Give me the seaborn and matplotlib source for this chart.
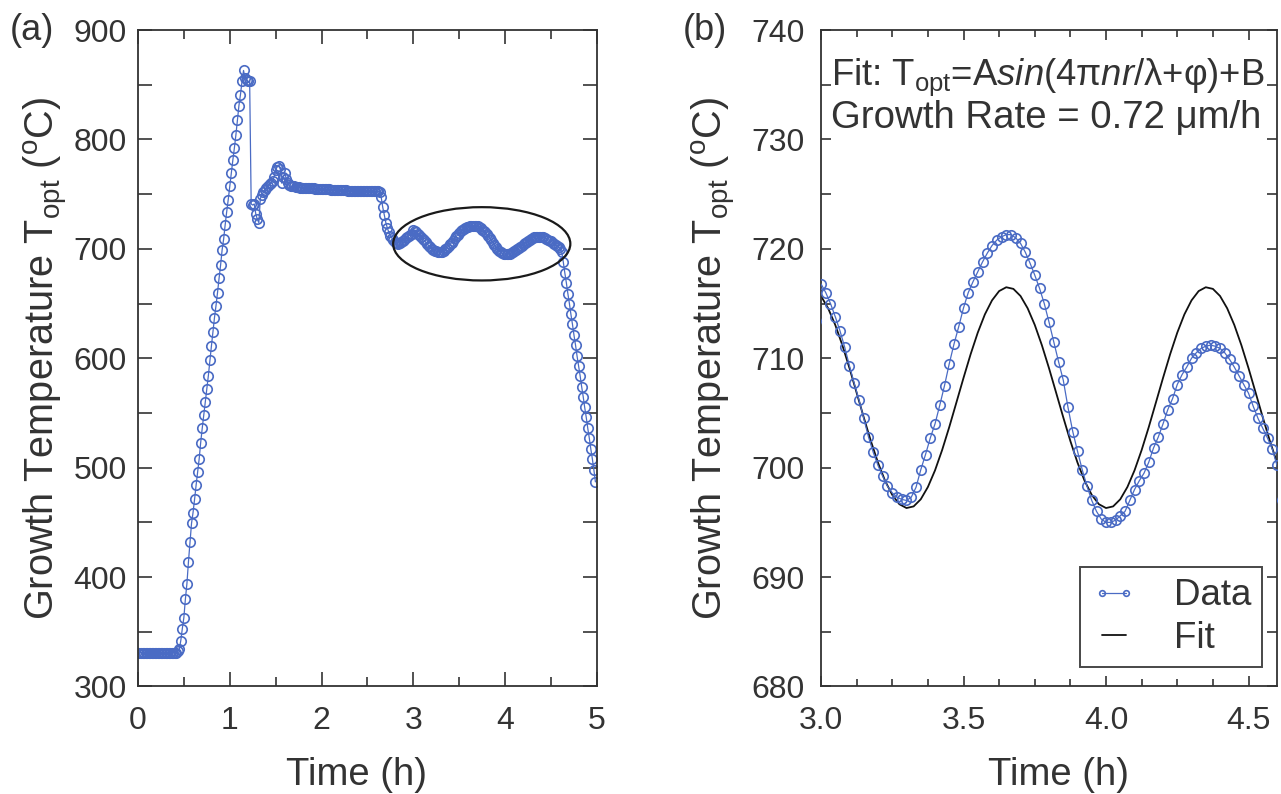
import numpy as np
import matplotlib
matplotlib.use("Agg")
import matplotlib.pyplot as plt
import seaborn as sns
from matplotlib.patches import Ellipse
from matplotlib.ticker import MultipleLocator, FormatStrFormatter

# ---------------- data ----------------
SAMPLE_STEP_H = 1 / 60          # one reading per minute
temp_c = [
    # 0.00 - 0.45 h : idle
    331, 331, 331, 331, 331, 331, 331, 331, 331, 331,
    331, 331, 331, 331, 331, 331, 331, 331, 331, 331,
    331, 331, 331, 331, 331, 331, 332, 334,
    # ramp up
    342, 353, 363, 380, 394, 414, 432, 449, 459, 471,
    484, 496, 508, 523, 536, 548, 560, 572, 584, 598,
    611, 624, 637, 648, 660, 673, 685, 699, 709, 722,
    734, 745, 757, 769, 781, 792, 804, 818, 831, 841,
    853, 863,
    # overshoot
    856, 854, 853, 853,
    741, 740, 741, 732, 727, 724,
    # settle
    746, 749, 752, 754, 756, 757, 759, 760, 762, 766,
    772, 775, 776, 773, 760, 766, 769, 764, 760, 758, 757,
    # plateau
    757, 757, 756.5, 756.5, 756.5, 756, 756, 756, 756, 756,
    755.5, 755.5, 755.5, 755.5, 755.5, 755, 755, 755, 755, 755,
    754.5, 754.5, 754.5, 754.5, 754.5, 754, 754, 754, 754, 754,
    753.5, 753.5, 753.5, 753.5, 753.5, 753.5, 753, 753, 753, 753,
    753, 753, 753, 753, 752.5, 752.5, 752.5, 752.5, 752.5, 752.5,
    752.5, 752.5, 752.5, 752.5, 752.5, 752.5, 752.5, 752,
    # step down
    747, 738, 731, 724, 719, 715, 712, 710, 708, 706,
    705, 704, 705, 706, 707, 708.5, 710, 711, 712, 712.8, 713.4,
    # oscillating growth (3.0 - 4.6 h)
    716.8, 716.0, 715.0, 713.8, 712.5, 711.0, 709.3, 707.7, 706.2, 704.5,
    702.8, 701.4, 700.2, 699.2, 698.3, 697.7, 697.3, 697.1, 697.0, 697.3,
    698.2, 699.8, 701.2, 702.7, 704.0, 705.7, 707.5, 709.5, 711.3, 712.9,
    714.6, 716.0, 717.0, 717.9, 718.8, 719.6, 720.3, 720.8, 721.1, 721.3,
    721.3, 721.0, 720.5, 719.7, 718.7, 717.6, 716.4, 715.0, 713.3, 711.5,
    709.7, 708.0, 705.5, 703.3, 701.5, 699.8, 698.3, 697.0, 696.0, 695.3,
    695.0, 695.0, 695.2, 695.6, 696.0, 697.0, 698.0, 698.8, 699.5, 700.5,
    701.8, 702.8, 704.0, 705.3, 706.3, 707.6, 708.5, 709.2, 710.0, 710.5,
    710.9, 711.1, 711.2, 711.1, 710.9, 710.5, 709.9, 709.2, 708.4, 707.6,
    706.8, 705.6, 704.5, 703.6, 702.7, 701.7, 700.2,
    # cool down
    697, 688, 678, 669, 659, 650, 640, 631, 621, 612,
    602, 593, 584, 574, 565, 555, 546, 536, 527, 517,
    508, 498, 487,
]
time_h = np.arange(len(temp_c)) * SAMPLE_STEP_H

FIT_START_H = 3.0
FIT_STEP_H = 0.025
fit_temp_c = [
    715.69, 714.57, 713.05, 711.19, 709.09, 706.85, 704.60, 702.43, 700.46, 698.79,
    697.51, 696.66, 696.31, 696.46, 697.11, 698.23, 699.75, 701.61, 703.71, 705.95,
    708.20, 710.37, 712.34, 714.01, 715.29, 716.14, 716.49, 716.34,
    715.69, 714.57, 713.05, 711.19, 709.09, 706.85, 704.60, 702.43, 700.46, 698.79,
    697.51, 696.66, 696.31, 696.46, 697.11, 698.23, 699.75, 701.61, 703.71, 705.95,
    708.20, 710.37, 712.34, 714.01, 715.29, 716.14, 716.49, 716.34,
    715.69, 714.57, 713.05, 711.19, 709.09, 706.85, 704.60, 702.43, 700.46,
]
fit_time_h = FIT_START_H + np.arange(len(fit_temp_c)) * FIT_STEP_H

# highlight ellipse (centre time, centre temp, width h, height degC)
ELLIPSE = (3.745, 704.6, 1.93, 67.0)

left_xticks = [0, 1, 2, 3, 4, 5]
left_yticks = [300, 400, 500, 600, 700, 800, 900]
right_xticks = [3.0, 3.5, 4.0, 4.5]
right_yticks = [680, 690, 700, 710, 720, 730, 740]

series_labels = ["Data", "Fit"]
fit_text_1 = "Fit: T$_{\\rm opt}$=A$\\it{sin}$(4π$\\it{nr}$/λ+φ)+B"
fit_text_2 = "Growth Rate = 0.72 μm/h"
ylabel = "Growth Temperature T$_{\\rm opt}$ ($^{\\rm o}$C)"
xlabel = "Time (h)"

# ---------------- style ----------------
sns.set_theme(style="ticks")
plt.rcParams["font.family"] = ["Liberation Sans", "DejaVu Sans"]
plt.rcParams["mathtext.fontset"] = "custom"
plt.rcParams["mathtext.rm"] = "Liberation Sans"
plt.rcParams["mathtext.it"] = "Liberation Sans:italic"
plt.rcParams["mathtext.bf"] = "Liberation Sans:bold"

INK = "#333333"
BLUE = "#4a6bc4"
TICK_FS = 23
XLABEL_FS = 27.5
YLABEL_FS = 28.5
NOTE1_FS = 26.3
NOTE2_FS = 27.6
LEGEND_FS = 26.5
PANEL_FS = 26

fig = plt.figure(figsize=(12.81, 7.94), dpi=100)
ax1 = fig.add_axes([0.1077, 0.1354, 0.3583, 0.8268])
ax2 = fig.add_axes([0.6409, 0.1354, 0.3560, 0.8268])

data_kws = dict(color=BLUE, linewidth=0.9, marker="o", markersize=6.8,
                markerfacecolor="none", markeredgecolor=BLUE,
                markeredgewidth=1.2, estimator=None, sort=False)

# left panel
sns.lineplot(x=time_h, y=temp_c, ax=ax1, **data_kws)
cx, cy, w, h = ELLIPSE
ax1.add_patch(Ellipse((cx, cy), w, h, fill=False, edgecolor="#1a1a1a",
                      linewidth=1.6, zorder=5))
ax1.set_xlim(0, 5)
ax1.set_ylim(300, 900)
ax1.set_xticks(left_xticks)
ax1.set_yticks(left_yticks)
ax1.xaxis.set_minor_locator(MultipleLocator(0.5))
ax1.yaxis.set_minor_locator(MultipleLocator(50))

# right panel
sns.lineplot(x=fit_time_h, y=fit_temp_c, ax=ax2, color="#111111",
             linewidth=1.3, label=series_labels[1], zorder=2)
sns.lineplot(x=time_h, y=temp_c, ax=ax2, label=series_labels[0], zorder=3,
             **data_kws)
ax2.set_xlim(3.0, 4.6)
ax2.set_ylim(680, 740)
ax2.set_xticks(right_xticks)
ax2.set_yticks(right_yticks)
ax2.xaxis.set_major_formatter(FormatStrFormatter("%.1f"))
ax2.xaxis.set_minor_locator(MultipleLocator(0.125))
ax2.yaxis.set_minor_locator(MultipleLocator(5))

handles, labels = ax2.get_legend_handles_labels()
order = [labels.index(series_labels[0]), labels.index(series_labels[1])]
leg = ax2.legend([handles[i] for i in order], [labels[i] for i in order],
                 loc="lower right", bbox_to_anchor=(0.967, 0.030),
                 borderaxespad=0, fontsize=LEGEND_FS, frameon=True,
                 fancybox=False, edgecolor="#1a1a1a", numpoints=2,
                 markerscale=0.6, handlelength=1.25, handletextpad=1.0,
                 borderpad=0.3, labelspacing=0.2, labelcolor=INK)
leg.get_frame().set_linewidth(1.4)

ax2.text(0.022, 0.917, fit_text_1, transform=ax2.transAxes, fontsize=NOTE1_FS,
         color=INK, va="baseline", ha="left")
ax2.text(0.022, 0.850, fit_text_2, transform=ax2.transAxes, fontsize=NOTE2_FS,
         color=INK, va="baseline", ha="left")

for ax, ypad, majlen, minlen_x, minlen_y in ((ax1, 8, 10, 6.5, 10),
                                              (ax2, 12, 7, 5, 7)):
    for s in ax.spines.values():
        s.set_color(INK)
        s.set_linewidth(1.3)
    ax.tick_params(which="both", direction="in", top=True, right=True,
                   color=INK, width=1.2, labelcolor=INK, labelsize=TICK_FS)
    ax.tick_params(axis="x", which="major", length=majlen, pad=14)
    ax.tick_params(axis="x", which="minor", length=minlen_x)
    ax.tick_params(axis="y", which="major", length=majlen, pad=ypad)
    ax.tick_params(axis="y", which="minor", length=minlen_y)
    ax.set_xlabel(xlabel, fontsize=XLABEL_FS, color=INK)
    ax.set_ylabel(ylabel, fontsize=YLABEL_FS, color=INK)
    ax.grid(False)

ax1.xaxis.set_label_coords(0.477, -0.108)
ax2.xaxis.set_label_coords(0.52, -0.108)
ax1.yaxis.set_label_coords(-0.150, 0.5)
ax2.yaxis.set_label_coords(-0.185, 0.5)

fig.text(0.008, 0.962, "(a)", fontsize=PANEL_FS, color=INK, va="center", ha="left")
fig.text(0.533, 0.962, "(b)", fontsize=PANEL_FS, color=INK, va="center", ha="left")

fig.savefig("out.png", dpi=100, facecolor="white")
